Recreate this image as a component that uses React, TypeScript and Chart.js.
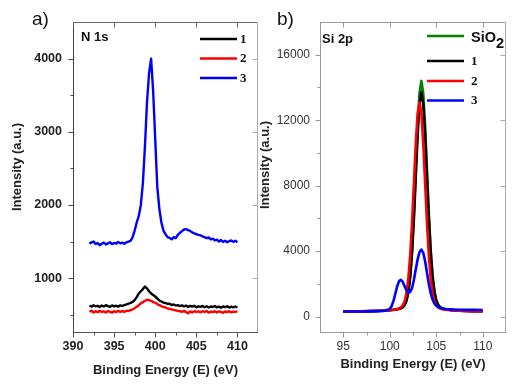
import React, { useEffect, useRef } from "react";
import { Chart, registerables } from "chart.js";

Chart.register(...registerables);

// ---------- Panel a) N 1s ----------
const n1sEnergy = [
  392, 392.25, 392.5, 392.75, 393, 393.25, 393.5, 393.75, 394, 394.25, 394.5, 394.75,
  395, 395.25, 395.5, 395.75, 396, 396.25, 396.5, 396.75, 397, 397.25, 397.5, 397.75,
  398, 398.25, 398.5, 398.75, 399, 399.25, 399.5, 399.75, 400, 400.25, 400.5, 400.75,
  401, 401.25, 401.5, 401.75, 402, 402.25, 402.5, 402.75, 403, 403.25, 403.5, 403.75,
  404, 404.25, 404.5, 404.75, 405, 405.25, 405.5, 405.75, 406, 406.25, 406.5, 406.75,
  407, 407.25, 407.5, 407.75, 408, 408.25, 408.5, 408.75, 409, 409.25, 409.5, 409.75, 410,
];
const n1sSample1 = [
  625, 610, 630, 615, 620, 605, 625, 612, 630, 618, 608, 626, 615, 622, 610, 628, 618, 632, 640, 650,
  662, 675, 700, 740, 790, 820, 850, 885, 860, 820, 790, 770,
  750, 720, 695, 680, 665, 660, 648, 650, 632, 640, 625, 630, 618, 628, 612, 625, 605, 620, 610, 622, 600, 615, 608, 620,
  602, 615, 598, 612, 605, 618, 600, 610, 596, 612, 603, 615, 598, 610, 600, 612, 598,
];
const n1sSample2 = [
  540, 555, 530, 548, 535, 552, 538, 545, 530, 550, 540, 528, 548, 536, 552, 540, 548, 538, 555, 550,
  565, 570, 590, 610, 630, 655, 672, 690, 705, 698, 690, 672,
  665, 645, 632, 618, 605, 598, 585, 580, 572, 565, 560, 552, 548, 540, 552, 535, 520, 545, 530, 548, 538, 545, 532, 548,
  538, 550, 528, 542, 535, 548, 530, 545, 538, 526, 544, 535, 548, 532, 542, 538, 545,
];
const n1sSample3 = [
  1470, 1490, 1500, 1465, 1480, 1450, 1470, 1485, 1460, 1475, 1490, 1465, 1480, 1470, 1495, 1475, 1485, 1470, 1490, 1500,
  1510, 1560, 1650, 1760, 1850, 2000, 2300, 2800, 3400, 3800, 4000, 3550,
  2900, 2250, 1950, 1760, 1650, 1600, 1560, 1550, 1530, 1560, 1545, 1590, 1620, 1640, 1665, 1670, 1655, 1645, 1625, 1610, 1600, 1590, 1585, 1570,
  1560, 1545, 1555, 1530, 1540, 1515, 1525, 1500, 1520, 1495, 1510, 1490, 1505, 1515, 1495, 1510, 1490,
];
const n1sTicksX = [390, 395, 400, 405, 410];
const n1sMinorX = [392.5, 397.5, 402.5, 407.5];
const n1sTicksY = [1000, 2000, 3000, 4000];
const n1sMinorY = [500, 1500, 2500, 3500];

// ---------- Panel b) Si 2p ----------
const si2pEnergy = [
  95, 96, 97, 98, 99, 99.5, 100, 100.2, 100.4, 100.6, 100.8, 101, 101.2, 101.4, 101.6, 101.8,
  102, 102.2, 102.4, 102.6, 102.8, 103, 103.2, 103.4, 103.6, 103.8, 104, 104.2, 104.4, 104.6,
  104.8, 105, 105.2, 105.4, 105.6, 105.8, 106, 106.5, 107, 107.5, 108, 109, 110,
];
const si2pSiO2 = [
  320, 322, 330, 340, 360, 375, 395, 405, 420, 435, 455, 480, 520, 590, 725, 1010,
  1550, 2530, 4110, 6330, 9010, 11670, 13660, 14400, 13650, 11680, 9020, 6350, 4130, 2550,
  1570, 1020, 735, 600, 525, 485, 458, 415, 388, 368, 355, 338, 328,
];
const si2pSample1 = [
  316, 321, 328, 338, 356, 370, 391, 402, 414, 429, 447, 473, 509, 575, 705, 970,
  1490, 2420, 3920, 6030, 8580, 11100, 12990, 13700, 12990, 11100, 8580, 6030, 3920, 2420,
  1490, 970, 705, 575, 509, 473, 447, 407, 382, 364, 351, 335, 326,
];
const si2pSample2 = [
  316, 321, 328, 339, 358, 374, 397, 409, 423, 441, 465, 500, 563, 687, 941, 1440,
  2330, 3760, 5780, 8210, 10620, 12430, 13100, 12430, 10620, 8210, 5780, 3760, 2330, 1440,
  941, 687, 563, 500, 465, 441, 423, 392, 371, 356, 346, 332, 323,
];
const si2pSample3 = [
  310, 315, 318, 322, 335, 360, 470, 640, 960, 1400, 1850, 2170, 2250, 2120, 1850, 1600,
  1480, 1500, 1750, 2250, 2900, 3500, 3950, 4100, 3900, 3400, 2700, 2000, 1450, 1050,
  800, 680, 590, 535, 500, 480, 465, 445, 430, 420, 415, 410, 405,
];
const si2pTicksX = [95, 100, 105, 110];
const si2pMinorX = [97.5, 102.5, 107.5];
const si2pTicksY = [0, 4000, 8000, 12000, 16000];
const si2pMinorY = [2000, 6000, 10000, 14000];

const SANS = "'Liberation Sans', Arial, sans-serif";
const SERIF = "'Liberation Serif', 'Times New Roman', serif";

const pts = (xs: number[], ys: number[]) => xs.map((x, i) => ({ x, y: ys[i] }));

type LegendItem = { label: string; color: string; y: number; sio2?: boolean };
type Deco = {
  panelLabel: string;
  panelX: number;
  innerLabel: string;
  innerX: number;
  innerY: number;
  yTitleX: number;
  yTitleY: number;
  legendX1: number;
  legendX2: number;
  legendTextX: number;
  legend: LegendItem[];
  colors: { left: string; bottom: string; top: string; right: string };
  majorX: number[];
  minorX: number[];
  majorY: number[];
  minorY: number[];
};

function decoPlugin(d: Deco) {
  return {
    id: "deco",
    afterDatasetsDraw(chart: any) {
      const { ctx, chartArea: a, scales } = chart;
      const xs = scales.x;
      const ys = scales.y;
      const L = Math.round(a.left) + 0.5;
      const R = Math.round(a.right) - 0.5;
      const T = Math.round(a.top) + 0.5;
      const B = Math.round(a.bottom) - 0.5;
      ctx.save();
      ctx.lineWidth = 1;
      const line = (x1: number, y1: number, x2: number, y2: number, c: string) => {
        ctx.strokeStyle = c;
        ctx.beginPath();
        ctx.moveTo(x1, y1);
        ctx.lineTo(x2, y2);
        ctx.stroke();
      };
      line(L, T, R, T, d.colors.top);
      line(R, T, R, B + 0.5, d.colors.right);
      line(L, B, R + 0.5, B, d.colors.bottom);
      line(L, T - 0.5, L, B + 0.5, d.colors.left);
      d.majorX.forEach((v) => {
        const px = Math.round(xs.getPixelForValue(v)) + 0.5;
        line(px, B, px, B + 5, d.colors.bottom);
        line(px, T, px, T + 5, d.colors.top);
      });
      d.minorX.forEach((v) => {
        const px = Math.round(xs.getPixelForValue(v)) + 0.5;
        line(px, B, px, B + 3, d.colors.bottom);
      });
      d.majorY.forEach((v) => {
        const py = Math.round(ys.getPixelForValue(v)) + 0.5;
        line(L - 5, py, L, py, d.colors.left);
        line(R - 5, py, R, py, d.colors.right);
      });
      d.minorY.forEach((v) => {
        const py = Math.round(ys.getPixelForValue(v)) + 0.5;
        line(L - 3, py, L, py, d.colors.left);
      });
      ctx.restore();
    },
    afterDraw(chart: any) {
      const { ctx } = chart;
      ctx.save();
      ctx.fillStyle = "#111";
      ctx.font = `19px ${SANS}`;
      ctx.textAlign = "left";
      ctx.textBaseline = "alphabetic";
      ctx.fillText(d.panelLabel, d.panelX, 25);
      ctx.font = `bold 13px ${SANS}`;
      ctx.textBaseline = "middle";
      ctx.fillText(d.innerLabel, d.innerX, d.innerY);
      ctx.save();
      ctx.translate(d.yTitleX, d.yTitleY);
      ctx.rotate(-Math.PI / 2);
      ctx.textAlign = "center";
      ctx.textBaseline = "middle";
      ctx.fillStyle = "#222";
      ctx.font = `bold 13px ${SANS}`;
      ctx.fillText("Intensity (a.u.)", 0, 0);
      ctx.restore();
      d.legend.forEach((it) => {
        ctx.strokeStyle = it.color;
        ctx.lineWidth = 2.5;
        ctx.beginPath();
        ctx.moveTo(d.legendX1, it.y);
        ctx.lineTo(d.legendX2, it.y);
        ctx.stroke();
        ctx.fillStyle = "#111";
        ctx.textAlign = "left";
        if (it.sio2) {
          ctx.font = `bold 14.5px ${SANS}`;
          ctx.textBaseline = "alphabetic";
          ctx.fillText("SiO", d.legendTextX, it.y + 5.5);
          const w = ctx.measureText("SiO").width;
          ctx.fillText("2", d.legendTextX + w, it.y + 11.5);
        } else {
          ctx.font = `bold 13px ${SERIF}`;
          ctx.textBaseline = "middle";
          ctx.fillText(it.label, d.legendTextX, it.y + 0.5);
        }
      });
      ctx.restore();
    },
  };
}

function makeScales(opts: {
  xMin: number; xMax: number; yMin: number; yMax: number;
  xTicks: number[]; yTicks: number[]; yWidth: number;
  bold: boolean; tickSize: number; tickColor: string; yPad: number; xPad: number; titlePad: number;
}) {
  const tickFont = { family: SANS, size: opts.tickSize, weight: opts.bold ? ("bold" as const) : ("normal" as const) };
  return {
    x: {
      type: "linear" as const,
      min: opts.xMin,
      max: opts.xMax,
      afterFit: (s: any) => { s.height = 52; },
      afterBuildTicks: (s: any) => { s.ticks = opts.xTicks.map((v) => ({ value: v })); },
      grid: { display: false, drawTicks: false },
      border: { display: false },
      ticks: { padding: opts.xPad, autoSkip: false, maxRotation: 0, font: tickFont, color: opts.tickColor, callback: (v: any) => String(v) },
      title: {
        display: true,
        text: "Binding Energy (E) (eV)",
        color: "#222",
        font: { family: SANS, size: 13, weight: "bold" as const },
        padding: { top: 0, bottom: opts.titlePad },
      },
    },
    y: {
      type: "linear" as const,
      min: opts.yMin,
      max: opts.yMax,
      afterFit: (s: any) => { s.width = opts.yWidth; },
      afterBuildTicks: (s: any) => { s.ticks = opts.yTicks.map((v) => ({ value: v })); },
      grid: { display: false, drawTicks: false },
      border: { display: false },
      ticks: { padding: opts.yPad, autoSkip: false, font: tickFont, color: opts.tickColor, callback: (v: any) => String(v) },
    },
  };
}

const lineDs = (label: string, xs: number[], ys: number[], color: string, order: number, width: number) => ({
  label,
  data: pts(xs, ys),
  borderColor: color,
  backgroundColor: color,
  borderWidth: width,
  pointRadius: 0,
  tension: 0,
  fill: false,
  borderJoinStyle: "round" as const,
  order,
});

export default function App() {
  const refA = useRef<HTMLCanvasElement>(null);
  const refB = useRef<HTMLCanvasElement>(null);

  useEffect(() => {
    const chartA = new Chart(refA.current as HTMLCanvasElement, {
      type: "line",
      data: {
        datasets: [
          lineDs("3", n1sEnergy, n1sSample3, "#0000ff", 1, 2.4),
          lineDs("2", n1sEnergy, n1sSample2, "#ff0000", 2, 2.4),
          lineDs("1", n1sEnergy, n1sSample1, "#000000", 3, 2.4),
        ],
      },
      options: {
        responsive: false,
        animation: false,
        devicePixelRatio: 1,
        events: [],
        layout: { padding: { left: 0, top: 22, right: 4, bottom: 0 } },
        plugins: { legend: { display: false }, tooltip: { enabled: false } },
        scales: makeScales({
          xMin: 390, xMax: 412.5, yMin: 250, yMax: 4500,
          xTicks: n1sTicksX, yTicks: n1sTicksY, yWidth: 73,
          bold: true, tickSize: 12.5, tickColor: "#222", yPad: 11, xPad: 6, titlePad: 7,
        }) as any,
      },
      plugins: [
        decoPlugin({
          panelLabel: "a)",
          panelX: 32,
          innerLabel: "N 1s",
          innerX: 81,
          innerY: 37,
          yTitleX: 17.5,
          yTitleY: 167,
          legendX1: 200,
          legendX2: 237,
          legendTextX: 240,
          legend: [
            { label: "1", color: "#000000", y: 39 },
            { label: "2", color: "#ff0000", y: 58.5 },
            { label: "3", color: "#0000ff", y: 78 },
          ],
          colors: { left: "#444", bottom: "#555", top: "#666", right: "#aaa" },
          majorX: n1sTicksX,
          minorX: n1sMinorX,
          majorY: n1sTicksY,
          minorY: n1sMinorY,
        }),
      ],
    });

    const chartB = new Chart(refB.current as HTMLCanvasElement, {
      type: "line",
      data: {
        datasets: [
          lineDs("3", si2pEnergy, si2pSample3, "#0000ff", 1, 2.6),
          lineDs("2", si2pEnergy, si2pSample2, "#ff0000", 2, 2.6),
          lineDs("1", si2pEnergy, si2pSample1, "#000000", 3, 2.6),
          lineDs("SiO2", si2pEnergy, si2pSiO2, "#008000", 4, 2.6),
        ],
      },
      options: {
        responsive: false,
        animation: false,
        devicePixelRatio: 1,
        events: [],
        layout: { padding: { left: 0, top: 22, right: 15, bottom: 0 } },
        plugins: { legend: { display: false }, tooltip: { enabled: false } },
        scales: makeScales({
          xMin: 92.5, xMax: 112.5, yMin: -1000, yMax: 18000,
          xTicks: si2pTicksX, yTicks: si2pTicksY, yWidth: 64,
          bold: false, tickSize: 12, tickColor: "#333", yPad: 10, xPad: 6.5, titlePad: 13,
        }) as any,
      },
      plugins: [
        decoPlugin({
          panelLabel: "b)",
          panelX: 21,
          innerLabel: "Si 2p",
          innerX: 66,
          innerY: 39,
          yTitleX: 9.5,
          yTitleY: 165,
          legendX1: 171,
          legendX2: 208,
          legendTextX: 215,
          legend: [
            { label: "SiO2", color: "#008000", y: 36, sio2: true },
            { label: "1", color: "#000000", y: 61 },
            { label: "2", color: "#ff0000", y: 81 },
            { label: "3", color: "#0000ff", y: 100.5 },
          ],
          colors: { left: "#999", bottom: "#999", top: "#999", right: "#aaa" },
          majorX: si2pTicksX,
          minorX: si2pMinorX,
          majorY: si2pTicksY,
          minorY: si2pMinorY,
        }),
      ],
    });

    return () => {
      chartA.destroy();
      chartB.destroy();
    };
  }, []);

  return (
    <div style={{ position: "absolute", left: 0, top: 0, width: 521, height: 385, background: "#fff", overflow: "hidden" }}>
      <canvas
        ref={refA}
        width={262}
        height={385}
        style={{ position: "absolute", left: 0, top: 0, width: 262, height: 385 }}
      />
      <canvas
        ref={refB}
        width={265}
        height={385}
        style={{ position: "absolute", left: 256, top: 0, width: 265, height: 385 }}
      />
    </div>
  );
}
